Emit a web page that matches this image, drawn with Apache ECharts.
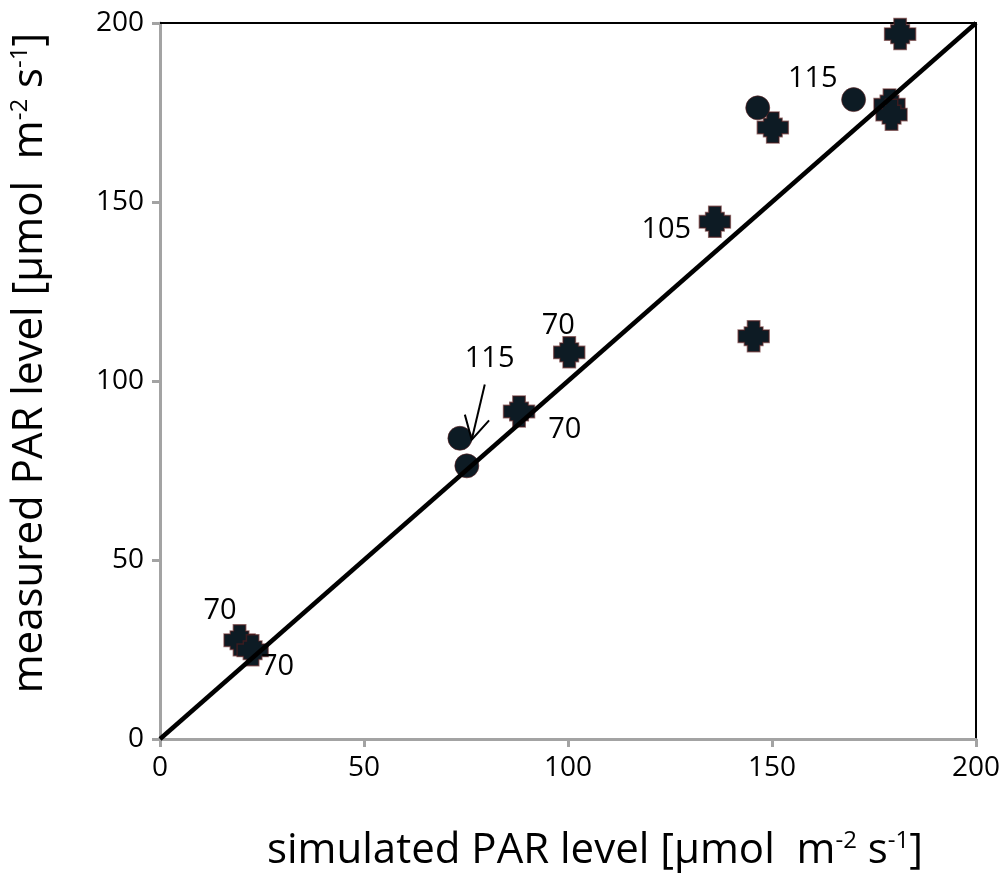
<!DOCTYPE html>
<html>
<head>
<meta charset="utf-8">
<style>
  html, body { margin: 0; padding: 0; background: #ffffff; }
  #chart { width: 1007px; height: 877px; }
</style>
<script src="https://cdn.jsdelivr.net/npm/echarts@6/dist/echarts.min.js"></script>
</head>
<body>
<div id="chart"></div>
<script>
// Simulated vs measured PAR, µmol m-2 s-1
const blobSim    = [19.5, 22.7, 88, 100.3, 136, 145.5, 150.2, 178.8, 179.3, 181.4];
const blobMeas   = [27.6, 24.8, 91.5, 108, 144.5, 112.5, 170.8, 177.2, 174.4, 196.9];
const circleSim  = [73.5, 75.2, 146.5, 170];
const circleMeas = [84, 76.3, 176.3, 178.6];

// 1:1 reference line
const oneToOneX = [0, 200];
const oneToOneY = [0, 200];

// Annotation texts and where they sit (data units)
const noteText = ['70', '70', '115', '70', '70', '105', '115'];
const noteX    = [14.7, 28.8, 80.8, 97.6, 99.2, 124.1, 160.0];
const noteY    = [35.7, 20.1, 106.1, 115.3, 86.4, 142.3, 184.4];

// Arrow from the "115" note down to the pair near 75
const arrowFrom = [79.6, 99.0];
const arrowTo   = [76.4, 83.6];

const FONT = '"Open Sans", "DejaVu Sans", sans-serif';
const MARK = '#0d1b24';

const blobPath = 'path://M3,0 L7,0 L7,2 L8,2 L8,3 L10,3 L10,7 L8,7 L8,8 L7,8 L7,10 L3,10 L3,8 L2,8 L2,7 L0,7 L0,3 L2,3 L2,2 L3,2 Z';

const chart = echarts.init(document.getElementById('chart'));

const titleRich = {
  t:   { fontSize: 42, fontFamily: FONT, color: '#000' },
  sup: { fontSize: 24, fontFamily: FONT, color: '#000', verticalAlign: 'top', padding: [0, 0, 20, 0] }
};
const titleText = '{t|[µmol  m}{sup|-2}{t| s}{sup|-1}{t|]}';

const grayAxis = { show: true, onZero: false, lineStyle: { color: '#a3a3a3', width: 3 } };
const blackAxis = { show: true, onZero: false, lineStyle: { color: '#000', width: 2 } };

chart.setOption({
  animation: false,
  backgroundColor: '#ffffff',
  grid: { left: 157, right: 31, top: 23, bottom: 136, containLabel: false },
  xAxis: [{
    type: 'value', min: 0, max: 200, interval: 50,
    position: 'bottom',
    axisLine: grayAxis,
    axisTick: { show: true, length: 8, lineStyle: { color: '#a3a3a3', width: 3 } },
    splitLine: { show: false },
    axisLabel: { fontSize: 28, fontFamily: FONT, color: '#000', margin: 15 },
    name: '{t|simulated PAR level }' + titleText,
    nameLocation: 'middle', nameGap: 90,
    nameTextStyle: { rich: titleRich, padding: [0, 0, 0, 54] }
  }, {
    type: 'value', min: 0, max: 200, position: 'top',
    axisLine: blackAxis,
    axisTick: { show: false }, axisLabel: { show: false }, splitLine: { show: false }
  }],
  yAxis: [{
    type: 'value', min: 0, max: 200, interval: 50,
    position: 'left',
    axisLine: grayAxis,
    axisTick: { show: true, length: 8, lineStyle: { color: '#a3a3a3', width: 3 } },
    splitLine: { show: false },
    axisLabel: { fontSize: 28, fontFamily: FONT, color: '#000', margin: 16 },
    name: '{t|measured PAR level }' + titleText,
    nameLocation: 'middle', nameGap: 108, nameRotate: 90,
    nameTextStyle: { rich: titleRich, padding: [0, 0, 0, 36] }
  }, {
    type: 'value', min: 0, max: 200, position: 'right',
    axisLine: blackAxis,
    axisTick: { show: false }, axisLabel: { show: false }, splitLine: { show: false }
  }],
  series: [
    {
      type: 'scatter', name: 'blob',
      symbol: blobPath, symbolSize: 31,
      itemStyle: { color: MARK, opacity: 1, borderColor: 'rgba(90,30,30,0.6)', borderWidth: 1.5 },
      data: blobSim.map((x, i) => [x, blobMeas[i]]),
      z: 3
    },
    {
      type: 'scatter', name: 'circle',
      symbol: 'circle', symbolSize: 24,
      itemStyle: { color: MARK, opacity: 1, borderColor: 'rgba(90,30,30,0.6)', borderWidth: 1 },
      data: circleSim.map((x, i) => [x, circleMeas[i]]),
      z: 3
    },
    {
      type: 'line', name: '1:1',
      data: oneToOneX.map((x, i) => [x, oneToOneY[i]]),
      symbol: 'none',
      lineStyle: { color: '#000', width: 4.5 },
      z: 5
    },
    {
      type: 'scatter', name: 'notes',
      symbolSize: 0,
      itemStyle: { opacity: 1 },
      data: noteX.map((x, i) => ({ value: [x, noteY[i]], text: noteText[i] })),
      label: {
        show: true, position: 'inside',
        formatter: p => p.data.text,
        fontSize: 29, fontFamily: FONT, color: '#000'
      },
      z: 6
    },
    {
      type: 'custom', name: 'arrow',
      data: [[arrowFrom[0], arrowFrom[1], arrowTo[0], arrowTo[1]]],
      renderItem: (params, api) => {
        const a = api.coord([api.value(0), api.value(1)]);
        const b = api.coord([api.value(2), api.value(3)]);
        const ang = Math.atan2(b[1] - a[1], b[0] - a[0]);
        const len = 26, spread = 0.5;
        const w1 = [b[0] - len * Math.cos(ang - spread), b[1] - len * Math.sin(ang - spread)];
        const w2 = [b[0] - len * Math.cos(ang + spread), b[1] - len * Math.sin(ang + spread)];
        const style = { stroke: '#000', lineWidth: 2, fill: null };
        return {
          type: 'group',
          children: [
            { type: 'line', shape: { x1: a[0], y1: a[1], x2: b[0], y2: b[1] }, style },
            { type: 'polyline', shape: { points: [w1, b, w2] }, style }
          ]
        };
      },
      z: 6
    }
  ]
});
</script>
</body>
</html>
